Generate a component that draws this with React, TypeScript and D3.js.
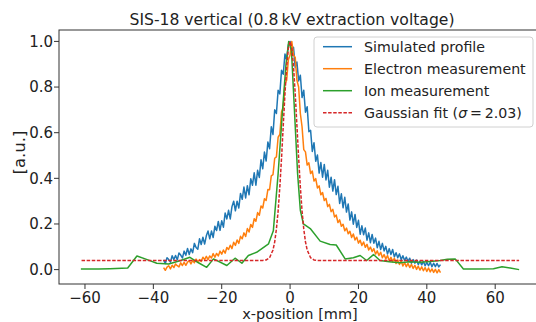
import React, { useEffect, useRef } from 'react';
import * as d3 from 'd3';

// simulated profile, sampled every 0.5 mm from -37 to 44
const simStart = -37;
const simEnd = 44;
const simulated = [
  0.043, 0.027, 0.052, 0.044, 0.033, 0.061, 0.044, 0.062, 0.043, 0.073,
  0.064, 0.051, 0.081, 0.063, 0.093, 0.066, 0.091, 0.074, 0.115, 0.097,
  0.089, 0.135, 0.110, 0.142, 0.112, 0.148, 0.169, 0.135, 0.169, 0.141,
  0.190, 0.171, 0.211, 0.172, 0.214, 0.186, 0.248, 0.222, 0.260, 0.222,
  0.276, 0.300, 0.258, 0.300, 0.270, 0.334, 0.308, 0.362, 0.314, 0.368,
  0.328, 0.398, 0.370, 0.424, 0.370, 0.435, 0.404, 0.481, 0.442, 0.515,
  0.476, 0.559, 0.530, 0.626, 0.592, 0.700, 0.684, 0.786, 0.770, 0.874,
  0.856, 0.945, 0.920, 0.985, 1.000, 0.945, 0.974, 0.886, 0.910, 0.827,
  0.852, 0.754, 0.786, 0.690, 0.714, 0.604, 0.610, 0.518, 0.556, 0.475,
  0.502, 0.423, 0.469, 0.405, 0.461, 0.393, 0.435, 0.361, 0.405, 0.344,
  0.394, 0.329, 0.365, 0.290, 0.332, 0.271, 0.317, 0.252, 0.288, 0.217,
  0.253, 0.199, 0.242, 0.185, 0.216, 0.155, 0.192, 0.153, 0.182, 0.129,
  0.161, 0.118, 0.154, 0.116, 0.138, 0.096, 0.124, 0.088, 0.115, 0.082,
  0.102, 0.068, 0.092, 0.066, 0.088, 0.056, 0.074, 0.052, 0.069, 0.044,
  0.061, 0.040, 0.055, 0.036, 0.050, 0.028, 0.044, 0.028, 0.042, 0.022,
  0.037, 0.021, 0.036, 0.017, 0.032, 0.017, 0.032, 0.013, 0.028, 0.013,
  0.027, 0.012, 0.022,
];

// electron measurement, same sampling
const elecStart = -37;
const elecEnd = 44;
const electron = [
  0.009, -0.003, 0.011, 0.017, 0.003, 0.019, 0.009, 0.025, 0.017, 0.012,
  0.030, 0.018, 0.032, 0.019, 0.033, 0.039, 0.025, 0.040, 0.030, 0.046,
  0.034, 0.044, 0.036, 0.054, 0.044, 0.058, 0.044, 0.060, 0.051, 0.070,
  0.054, 0.071, 0.060, 0.081, 0.068, 0.086, 0.072, 0.097, 0.088, 0.107,
  0.092, 0.120, 0.106, 0.130, 0.115, 0.146, 0.135, 0.161, 0.145, 0.180,
  0.165, 0.198, 0.185, 0.223, 0.212, 0.250, 0.238, 0.279, 0.270, 0.311,
  0.303, 0.351, 0.350, 0.411, 0.416, 0.488, 0.494, 0.580, 0.592, 0.692,
  0.710, 0.814, 0.830, 0.920, 0.940, 1.000, 0.940, 0.930, 0.830, 0.800,
  0.684, 0.626, 0.526, 0.516, 0.458, 0.468, 0.421, 0.432, 0.388, 0.399,
  0.358, 0.367, 0.328, 0.338, 0.303, 0.312, 0.276, 0.286, 0.254, 0.264,
  0.231, 0.239, 0.206, 0.218, 0.190, 0.199, 0.170, 0.182, 0.157, 0.168,
  0.141, 0.156, 0.130, 0.142, 0.116, 0.129, 0.106, 0.121, 0.098, 0.111,
  0.086, 0.099, 0.079, 0.092, 0.068, 0.082, 0.062, 0.076, 0.052, 0.066,
  0.047, 0.062, 0.039, 0.054, 0.035, 0.050, 0.027, 0.042, 0.023, 0.038,
  0.016, 0.031, 0.013, 0.027, 0.009, 0.023, 0.005, 0.019, 0.001, 0.015,
  -0.002, 0.012, -0.005, 0.009, -0.008, 0.007, -0.010, 0.003, -0.012, 0.001,
  -0.014, 0.000, -0.013,
];

// ion measurement
const ionX = [
  -61.2, -56, -52.7, -47.5, -44.8, -42, -39, -35.5, -32, -29.3, -26.8, -24.4,
  -22.4, -18.5, -16.1, -14.1, -12.2, -9.8, -6.3, -4.9, -3.5, -2.2, -1.2, -0.4,
  0.4, 1.2, 2.2, 3.0, 3.9, 5.9, 8.8, 11.7, 13.5, 16.1, 18.5, 20.5, 22.4, 24.4,
  26.3, 29, 32, 35, 38, 41, 43.9, 46, 48.3, 50.7, 55, 59.5, 62, 64.4, 67,
];
const ionY = [
  0.003, 0.003, 0.004, 0.007, 0.060, 0.045, 0.028, 0.025, 0.040, 0.054, 0.030, 0.010,
  0.047, 0.018, 0.050, 0.028, 0.062, 0.076, 0.113, 0.170, 0.420, 0.700, 0.900, 1.000,
  0.960, 0.720, 0.420, 0.260, 0.200, 0.180, 0.125, 0.110, 0.108, 0.047, 0.052, 0.062, 0.040, 0.066,
  0.040, 0.035, 0.030, 0.034, 0.032, 0.036, 0.040, 0.045, 0.047, 0.003, 0.003, 0.004, 0.013, 0.007, 0.000,
];

// gaussian fit (sigma = 2.03)
const fitX = [
  -61, -10, -8, -7, -6, -5, -4.5, -4, -3.5, -3, -2.5, -2, -1.5, -1, -0.5, 0,
  0.5, 1, 1.5, 2, 2.5, 3, 3.5, 4, 4.5, 5, 6, 7, 8, 10, 67,
];
const fitY = [
  0.04, 0.04, 0.0405, 0.0425, 0.052, 0.086, 0.122, 0.178, 0.257, 0.362, 0.489, 0.631, 0.771, 0.890, 0.971, 1.0,
  0.971, 0.890, 0.771, 0.631, 0.489, 0.362, 0.257, 0.178, 0.122, 0.086, 0.052, 0.0425, 0.0405, 0.04, 0.04,
];

const xTicks = [-60, -40, -20, 0, 20, 40, 60];
const yTicks = [0, 0.2, 0.4, 0.6, 0.8, 1.0];

const legendItems = [
  { label: 'Simulated profile', color: '#1f77b4', dash: null },
  { label: 'Electron measurement', color: '#ff7f0e', dash: null },
  { label: 'Ion measurement', color: '#2ca02c', dash: null },
  { label: 'Gaussian fit', color: '#d62728', dash: '3.5,1.6' },
];

const FONT = 'DejaVu Sans, sans-serif';

function sampled(values: number[], start: number, end: number) {
  const step = (end - start) / (values.length - 1);
  return values.map((v, i) => [start + i * step, v] as [number, number]);
}

function App() {
  const svgRef = useRef<SVGSVGElement>(null);

  useEffect(() => {
    const svg = d3.select(svgRef.current);
    svg.selectAll('*').remove();

    const left = 59, right = 541, top = 30, bottom = 284;
    const x = d3.scaleLinear().domain([-67.6, 73.4]).range([left, right]);
    const y = d3.scaleLinear().domain([-0.063, 1.05]).range([bottom, top]);

    const line = d3.line<[number, number]>().x(d => x(d[0])).y(d => y(d[1]));

    const plot = svg.append('g');

    plot.append('path')
      .attr('d', line(sampled(simulated, simStart, simEnd)))
      .attr('fill', 'none').attr('stroke', '#1f77b4').attr('stroke-width', 1.5)
      .attr('stroke-linejoin', 'round');

    plot.append('path')
      .attr('d', line(sampled(electron, elecStart, elecEnd)))
      .attr('fill', 'none').attr('stroke', '#ff7f0e').attr('stroke-width', 1.5)
      .attr('stroke-linejoin', 'round');

    plot.append('path')
      .attr('d', line(ionX.map((v, i) => [v, ionY[i]] as [number, number])))
      .attr('fill', 'none').attr('stroke', '#2ca02c').attr('stroke-width', 1.5)
      .attr('stroke-linejoin', 'round');

    plot.append('path')
      .attr('d', line(fitX.map((v, i) => [v, fitY[i]] as [number, number])))
      .attr('fill', 'none').attr('stroke', '#d62728').attr('stroke-width', 1.5)
      .attr('stroke-dasharray', '3.5,1.6');

    // frame
    svg.append('rect')
      .attr('x', left).attr('y', top)
      .attr('width', right - left).attr('height', bottom - top)
      .attr('fill', 'none').attr('stroke', '#333').attr('stroke-width', 1);

    // x ticks
    const xt = svg.append('g');
    xTicks.forEach(t => {
      xt.append('line')
        .attr('x1', x(t)).attr('x2', x(t))
        .attr('y1', bottom).attr('y2', bottom + 5)
        .attr('stroke', '#333').attr('stroke-width', 1);
      xt.append('text')
        .attr('x', x(t)).attr('y', 303)
        .attr('text-anchor', 'middle')
        .attr('font-family', FONT).attr('font-size', 15)
        .attr('fill', '#222')
        .text(t < 0 ? '\u2212' + Math.abs(t) : String(t));
    });

    // y ticks
    const yt = svg.append('g');
    yTicks.forEach(t => {
      yt.append('line')
        .attr('x1', left - 5).attr('x2', left)
        .attr('y1', y(t)).attr('y2', y(t))
        .attr('stroke', '#333').attr('stroke-width', 1);
      yt.append('text')
        .attr('x', 53).attr('y', y(t))
        .attr('dy', '0.36em')
        .attr('text-anchor', 'end')
        .attr('font-family', FONT).attr('font-size', 15)
        .attr('fill', '#222')
        .text(t.toFixed(1));
    });

    // labels
    svg.append('text')
      .attr('x', 292).attr('y', 25)
      .attr('text-anchor', 'middle')
      .attr('font-family', FONT).attr('font-size', 15.6)
      .attr('fill', '#222')
      .text('SIS-18 vertical (0.8\u2009kV extraction voltage)');

    svg.append('text')
      .attr('x', 300).attr('y', 318.5)
      .attr('text-anchor', 'middle')
      .attr('font-family', FONT).attr('font-size', 14.5)
      .attr('fill', '#222')
      .text('x-position [mm]');

    svg.append('text')
      .attr('transform', 'translate(25,152.5) rotate(-90)')
      .attr('text-anchor', 'middle')
      .attr('font-family', FONT).attr('font-size', 16.5)
      .attr('fill', '#222')
      .text('[a.u.]');

    // legend
    const lg = svg.append('g');
    lg.append('rect')
      .attr('x', 314).attr('y', 37).attr('width', 219).attr('height', 90)
      .attr('rx', 3)
      .attr('fill', 'white').attr('fill-opacity', 0.8)
      .attr('stroke', '#d0d0d0').attr('stroke-width', 1);

    legendItems.forEach((item, i) => {
      const ly = 46.7 + i * 22;
      lg.append('line')
        .attr('x1', 323).attr('x2', 352)
        .attr('y1', ly).attr('y2', ly)
        .attr('stroke', item.color).attr('stroke-width', 1.5)
        .attr('stroke-dasharray', item.dash);
      const txt = lg.append('text')
        .attr('x', 364).attr('y', ly + 5)
        .attr('font-family', FONT).attr('font-size', 14.2)
        .attr('fill', '#222')
        .text(item.label);
      if (i === 3) {
        txt.append('tspan').text(' (');
        txt.append('tspan').attr('font-style', 'italic').text('\u03c3');
        txt.append('tspan').text('\u2009=\u20092.03)');
      }
    });
  }, []);

  return (
    <svg
      ref={svgRef}
      width={536}
      height={322}
      style={{ position: 'absolute', left: 0, top: 0, background: 'white' }}
    ></svg>
  );
}

export default App;
